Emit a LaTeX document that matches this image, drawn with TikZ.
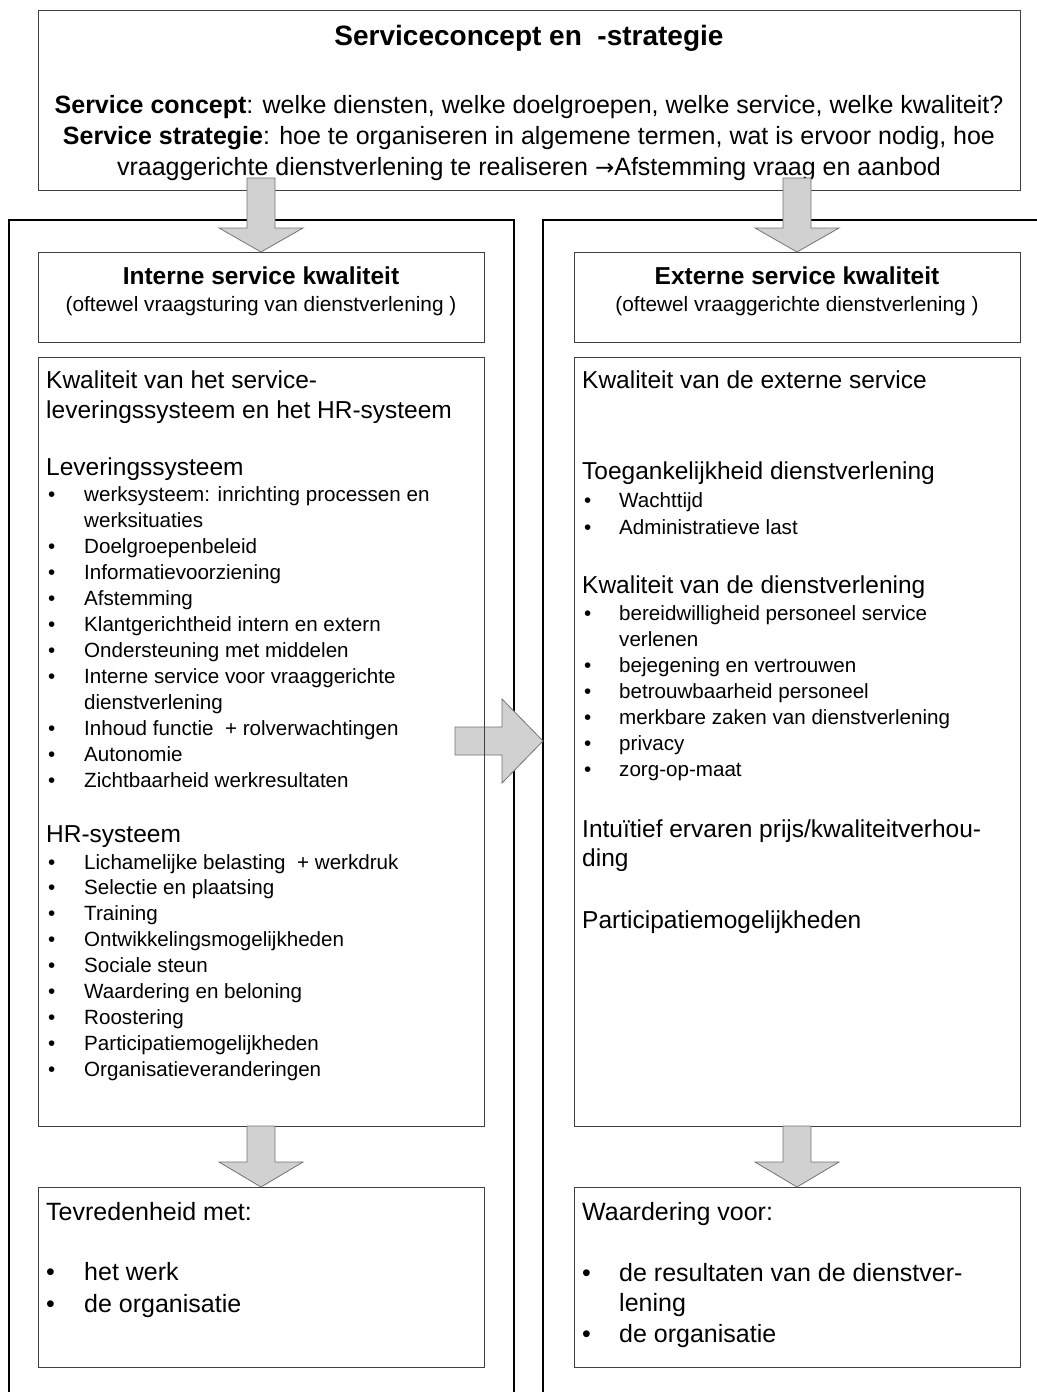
\documentclass[tikz,border=0pt]{standalone}
\usepackage{fontspec}
\setmainfont{Liberation Sans}
\newfontfamily\pijlfont{DejaVu Sans}
\usetikzlibrary{calc,positioning}

\tikzset{
  panel/.style={draw=black, line width=1.6pt, anchor=north west, inner sep=0pt, outer sep=0pt},
  vak/.style={draw=black!75, line width=1pt, anchor=north west, inner sep=0pt, outer sep=0pt,
    minimum width=446pt},
  pijl/.style={fill=black!18, draw=black!55, line width=0.8pt, line join=miter},
  titel/.style={font=\bfseries\fontsize{28}{32}\selectfont, anchor=base, inner sep=0pt},
  midden/.style={font=\fontsize{25}{29}\selectfont, anchor=base, inner sep=0pt},
  hoofd/.style={font=\bfseries\fontsize{24.5}{28}\selectfont, anchor=base, inner sep=0pt},
  sub/.style={font=\fontsize{20.8}{24}\selectfont, anchor=base, inner sep=0pt},
  kop/.style={font=\fontsize{24.5}{28}\selectfont, anchor=base west, inner sep=0pt},
  regel/.style={font=\fontsize{20.6}{24}\selectfont, anchor=base west, inner sep=0pt},
  groot/.style={font=\fontsize{25}{29}\selectfont, anchor=base west, inner sep=0pt},
}

% block arrows: start, tip, head length
\newcommand\neerpijl[3]{%
  \filldraw[pijl] let \p1=(#1), \p2=(#2) in
    (\x2-14pt,\y1) -- (\x2+14pt,\y1) -- (\x2+14pt,\y2+#3) -- (\x2+42pt,\y2+#3)
    -- (\x2,\y2) -- (\x2-42pt,\y2+#3) -- (\x2-14pt,\y2+#3) -- cycle;}
\newcommand\rechtspijl[3]{%
  \filldraw[pijl] let \p1=(#1), \p2=(#2) in
    (\x1,\y2+14pt) -- (\x2-#3,\y2+14pt) -- (\x2-#3,\y2+42pt) -- (\x2,\y2)
    -- (\x2-#3,\y2-42pt) -- (\x2-#3,\y2-14pt) -- (\x1,\y2-14pt) -- cycle;}

\begin{document}
\begin{tikzpicture}[x=1pt,y=-1pt]
    \useasboundingbox (0,0) rectangle (1036,1392);

    % top box
    \node[vak, minimum width=982pt, minimum height=180pt] (concept) at (38,10) {};
    \node[titel] (conceptTitel) at (529,45) {Serviceconcept en~ -strategie};
    \node[midden] (conceptR1) at (529,113) {\textbf{Service concept}: welke diensten, welke doelgroepen, welke service, welke kwaliteit?};
    \node[midden] (conceptR2) at (529,144) {\textbf{Service strategie}: hoe te organiseren in algemene termen, wat is ervoor nodig, hoe};
    \node[midden] (conceptR3) at (529,175) {vraaggerichte dienstverlening te realiseren {\pijlfont\fontsize{23}{27}\selectfont →}Afstemming vraag en aanbod};

    % the two panels
    \node[panel, minimum width=505pt, minimum height=1190pt] (intPanel) at (9,220) {};
    \node[panel, minimum width=520pt, minimum height=1190pt] (extPanel) at (543,220) {};

    % arrow between the panels
    \coordinate (m1) at (455,741);
    \coordinate (m2) at (extPanel.west |- m1);
    \rechtspijl{m1}{m2}{41pt}

    % boxes in the panels
    \node[vak, minimum height=90pt] (intHdr) at (38,252) {};
    \node[vak, minimum height=90pt] (extHdr) at (574,252) {};
    \node[vak, minimum height=769pt] (intBody) at (38,357) {};
    \node[vak, minimum height=769pt] (extBody) at (574,357) {};
    \node[vak, minimum height=180pt] (intRes) at (38,1187) {};
    \node[vak, minimum height=180pt] (extRes) at (574,1187) {};

    \node[hoofd] (intKop) at (261,284) {Interne service kwaliteit};
    \node[sub] (intSub) at (261,311) {(oftewel vraagsturing van dienstverlening )};
    \node[hoofd] (extKop) at (797,284) {Externe service kwaliteit};
    \node[sub] (extSub) at (797,311) {(oftewel vraaggerichte dienstverlening )};

    % left: internal
    \node[kop] (iK1) at (46,388) {Kwaliteit van het service-};
    \node[kop] (iK2) at (46,418) {leveringssysteem en het HR-systeem};
    \node[kop] (iK3) at (46,475) {Leveringssysteem};
    \foreach \b/\t [count=\i from 0] in {
        1/werksysteem: inrichting processen en,
        0/werksituaties,
        1/Doelgroepenbeleid,
        1/Informatievoorziening,
        1/Afstemming,
        1/Klantgerichtheid intern en extern,
        1/Ondersteuning met middelen,
        1/Interne service voor vraaggerichte,
        0/dienstverlening,
        1/Inhoud functie~ + rolverwachtingen,
        1/Autonomie,
        1/Zichtbaarheid werkresultaten}
    {
        \node[regel] (lv\i) at (84,{501+26*\i}) {\t};
        \ifnum\b=1 \node[regel] (lvs\i) at (48,{501+26*\i}) {•}; \fi
    };
    \node[kop] (iK4) at (46,842) {HR-systeem};
    \foreach \t [count=\i from 0] in {
        Lichamelijke belasting~ + werkdruk,
        Selectie en plaatsing,
        Training,
        Ontwikkelingsmogelijkheden,
        Sociale steun,
        Waardering en beloning,
        Roostering,
        Participatiemogelijkheden,
        Organisatieveranderingen}
    {
        \node[regel] (hr\i) at (84,{869+25.9*\i}) {\t};
        \node[regel] (hrs\i) at (48,{869+25.9*\i}) {•};
    };

    % right: external
    \node[kop] (eK1) at (582,388) {Kwaliteit van de externe service};
    \node[kop] (eK2) at (582,479) {Toegankelijkheid dienstverlening};
    \foreach \t [count=\i from 0] in {Wachttijd, Administratieve last}
    {
        \node[regel] (tg\i) at (619,{507+27*\i}) {\t};
        \node[regel] (tgs\i) at (584,{507+27*\i}) {•};
    };
    \node[kop] (eK3) at (582,593) {Kwaliteit van de dienstverlening};
    \foreach \b/\t [count=\i from 0] in {
        1/bereidwilligheid personeel service,
        0/verlenen,
        1/bejegening en vertrouwen,
        1/betrouwbaarheid personeel,
        1/merkbare zaken van dienstverlening,
        1/privacy,
        1/zorg-op-maat}
    {
        \node[regel] (kd\i) at (619,{620+26*\i}) {\t};
        \ifnum\b=1 \node[regel] (kds\i) at (584,{620+26*\i}) {•}; \fi
    };
    \node[kop] (eK4) at (582,837) {Intuïtief ervaren prijs/kwaliteitverhou-};
    \node[kop] (eK5) at (582,866) {ding};
    \node[kop] (eK6) at (582,928) {Participatiemogelijkheden};

    % results
    \node[groot] (iR0) at (46,1220) {Tevredenheid met:};
    \node[groot] (iR1) at (84,1280) {het werk};
    \node[groot] (iR2) at (84,1312) {de organisatie};
    \node[groot] (iRs1) at (46,1280) {•};
    \node[groot] (iRs2) at (46,1312) {•};
    \node[groot] (eR0) at (582,1220) {Waardering voor:};
    \node[groot] (eR1) at (619,1281) {de resultaten van de dienstver-};
    \node[groot] (eR2) at (619,1311) {lening};
    \node[groot] (eR3) at (619,1342) {de organisatie};
    \node[groot] (eRs1) at (582,1281) {•};
    \node[groot] (eRs3) at (582,1342) {•};

    % arrows down
    \coordinate (a1) at ($(intHdr.north |- concept.south)+(0,-12)$);
    \coordinate (a2) at ($(extHdr.north |- concept.south)+(0,-12)$);
    \neerpijl{a1}{intHdr.north}{24pt}
    \neerpijl{a2}{extHdr.north}{24pt}
    \neerpijl{intBody.south}{intRes.north}{25pt}
    \neerpijl{extBody.south}{extRes.north}{25pt}
\end{tikzpicture}
\end{document}
